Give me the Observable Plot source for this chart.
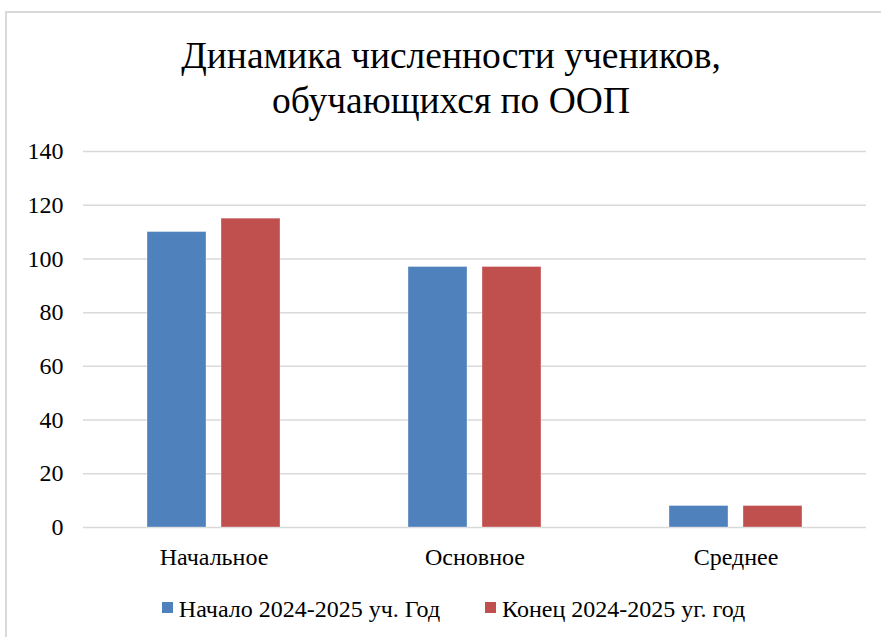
<!DOCTYPE html>
<html><head><meta charset="utf-8">
<script src="https://cdn.jsdelivr.net/npm/d3@7"></script>
<script src="https://cdn.jsdelivr.net/npm/@observablehq/plot@0.6"></script>
<style>
html,body{margin:0;padding:0;background:#fff;overflow:hidden;width:881px;height:637px;}
body{font-family:"Liberation Serif","Times New Roman",serif;color:#000;position:relative;}
#frame{position:absolute;left:5px;top:11px;width:900px;height:660px;border:2px solid #d9d9d9;box-sizing:border-box;}
#title{position:absolute;left:0;top:33px;width:902px;text-align:center;font-size:37.5px;line-height:45px;}
#chart{position:absolute;left:0;top:130px;}
#legend{position:absolute;left:0;top:597px;width:907px;height:24px;display:flex;justify-content:center;align-items:center;gap:45px;font-size:24px;line-height:24px;white-space:nowrap;}
.item{display:flex;align-items:center;}
.sw{display:inline-block;width:11px;height:11px;margin-right:6px;position:relative;top:-1.5px;}
</style>
</head><body>
<div id="frame"></div>
<div id="title">Динамика численности учеников,<br>обучающихся по ООП</div>
<div id="chart"></div>
<div id="legend"></div>
<script>
const categories = ["Начальное", "Основное", "Среднее"];
const series = ["Начало 2024-2025 уч. Год", "Конец 2024-2025 уг. год"];
const startValues = [110, 97, 8];
const endValues = [115, 97, 8];
const yTicks = [0, 20, 40, 60, 80, 100, 120, 140];
const colors = ["#4F81BD", "#C0504D"];

const data = categories.flatMap((c, i) => [
  {category: c, series: series[0], value: startValues[i]},
  {category: c, series: series[1], value: endValues[i]}
]);

const chart = Plot.plot({
  width: 881,
  height: 440,
  marginTop: 21,
  marginBottom: 43,
  marginLeft: 82,
  marginRight: 15,
  style: {fontFamily: '"Liberation Serif","Times New Roman",serif', fontSize: "24px", color: "#000", background: "transparent", overflow: "visible"},
  fx: {domain: categories, padding: 0, label: null, tickSize: 0, tickPadding: 20, axis: "bottom"},
  x: {domain: series, paddingInner: 0.2027, paddingOuter: 0.85, axis: null},
  y: {domain: [0, 140], ticks: yTicks, tickSize: 0, tickPadding: 20, label: null, tickFormat: d => String(d)},
  color: {domain: series, range: colors},
  marks: [
    Plot.ruleY(yTicks, {y: d => d, stroke: "#d9d9d9", strokeWidth: 1.5}),
    Plot.barY(data, {fx: "category", x: "series", y: "value", fill: "series", stroke: "#ffffff", strokeOpacity: 0.35, strokeWidth: 1})
  ]
});
document.getElementById("chart").appendChild(chart);

const legend = document.getElementById("legend");
series.forEach((s, i) => {
  const item = document.createElement("div");
  item.className = "item";
  const sw = document.createElement("span");
  sw.className = "sw";
  sw.style.background = colors[i];
  const t = document.createElement("span");
  t.textContent = s;
  item.appendChild(sw);
  item.appendChild(t);
  legend.appendChild(item);
});
</script>
</body></html>
